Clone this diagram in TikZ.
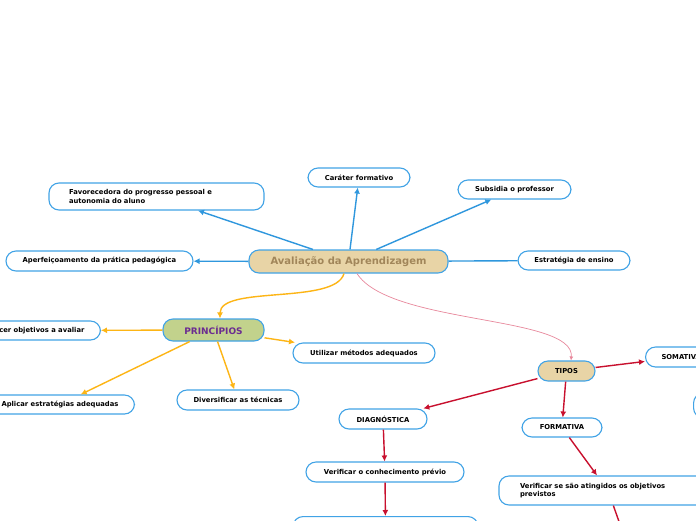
\documentclass[tikz,border=0pt]{standalone}
\usepackage{fontspec}
\setmainfont{DejaVu Sans}
\usetikzlibrary{arrows.meta,calc}
\definecolor{boxblue}{HTML}{41A3E6}
\definecolor{lineblue}{HTML}{2F97DD}
\definecolor{orangeln}{HTML}{FDB515}
\definecolor{redln}{HTML}{C8102E}
\definecolor{pinkln}{HTML}{E8889C}
\definecolor{tanfill}{HTML}{E8D4A6}
\definecolor{greenfill}{HTML}{C2D28C}
\definecolor{purpletx}{HTML}{6B2C91}
\definecolor{browntx}{HTML}{A1865A}
\tikzset{
  box/.style={draw=boxblue, line width=1.1pt, rounded corners=10pt, fill=white,
    font=\fontsize{6.8}{8.6}\selectfont\bfseries, inner sep=0pt, align=center},
  tip/.style={-{Latex[length=6pt,width=6pt]}},
  bl/.style={draw=lineblue, line width=1.4pt, tip},
  ol/.style={draw=orangeln, line width=1.4pt, tip},
  rd/.style={draw=redln, line width=1.4pt, tip},
  pk/.style={draw=pinkln, line width=0.7pt, -{Latex[length=4pt,width=4pt]}},
}
\begin{document}
\begin{tikzpicture}[x=1pt,y=-1pt]
\useasboundingbox (0,0) rectangle (696,520);
\clip (0,0) rectangle (696,520);
\fill[white] (0,0) rectangle (696,520);
% nodes
\node[box, fill=tanfill, minimum width=199, minimum height=23,
  font=\fontsize{10}{12}\selectfont\bfseries, text=browntx] (c) at (348.5,261.5) {Avaliação da Aprendizagem};
\node[box, minimum width=215, minimum height=27, text width=175, align=left] (fav) at (156.5,196.5)
  {Favorecedora do progresso pessoal e\\autonomia do aluno};
\node[box, minimum width=102, minimum height=19] (car) at (359,177.5) {Caráter formativo};
\node[box, minimum width=113, minimum height=19] (sub) at (514.5,189.5) {Subsidia o professor};
\node[box, minimum width=187, minimum height=20] (ape) at (99.5,261) {Aperfeiçoamento da prática pedagógica};
\node[box, minimum width=112, minimum height=19] (est) at (574,260.5) {Estratégia de ensino};
\node[box, fill=greenfill, minimum width=101, minimum height=22,
  font=\fontsize{9}{11}\selectfont\bfseries, text=purpletx] (p) at (213.5,330) {PRINCÍPIOS};
\node[box, anchor=east, inner xsep=16pt, minimum height=19] (obj) at (101,330.5) {Estabelecer objetivos a avaliar};
\node[box, anchor=east, inner xsep=16pt, minimum height=19] (apl) at (135,404.5) {Aplicar estratégias adequadas};
\node[box, minimum width=122, minimum height=20] (div) at (238,400) {Diversificar as técnicas};
\node[box, minimum width=142, minimum height=20] (uti) at (364,353) {Utilizar métodos adequados};
\node[box, fill=tanfill, minimum width=57, minimum height=20] (t) at (566.5,371) {TIPOS};
\node[box, anchor=west, inner xsep=16pt, minimum height=20] (som) at (645,357) {SOMATIVA};
\node[box, anchor=west, minimum width=70, minimum height=25] (rp) at (693,405.5) {};
\node[box, minimum width=88, minimum height=20] (dia) at (383,419) {DIAGNÓSTICA};
\node[box, minimum width=80, minimum height=19] (for) at (562,427.5) {FORMATIVA};
\node[box, minimum width=158, minimum height=20] (vcp) at (385,472) {Verificar o conhecimento prévio};
\node[box, minimum width=218, minimum height=29, text width=176, align=left] (vss) at (608,490.5)
  {Verificar se são atingidos os objetivos\\previstos};
\node[box, anchor=north, minimum width=185, minimum height=24] (bot) at (385.5,516) {};
\coordinate (vssend) at (622,530);
% connectors from center
\draw[bl] (c) -- (fav);
\draw[bl] (c) -- (car);
\draw[bl] (c) -- (sub);
\draw[bl] (c) -- (ape);
\draw[bl,-] (c) -- (est);
\draw[ol] ($(c.south)+(-4.5,0)$) .. controls (335,305) and (220,285) .. ($(p.north)+(6.5,0)$);
\draw[pk] ($(c.south)+(8.5,0)$) .. controls (390,325) and (575,315) .. ($(t.north)+(4.5,0)$);
% principios
\draw[ol] (p) -- (obj);
\draw[ol] (p) -- (apl);
\draw[ol] (p) -- (div);
\draw[ol] (p) -- (uti);
% tipos
\draw[rd] (t) -- (som);
\draw[rd] (t) -- (dia);
\draw[rd] (t) -- (for);
\draw[rd] (dia) -- (vcp);
\draw[rd] (vcp) -- (bot);
\draw[rd] (for) -- (vss);
\draw[rd] (vss) -- (vssend);
\end{tikzpicture}
\end{document}
